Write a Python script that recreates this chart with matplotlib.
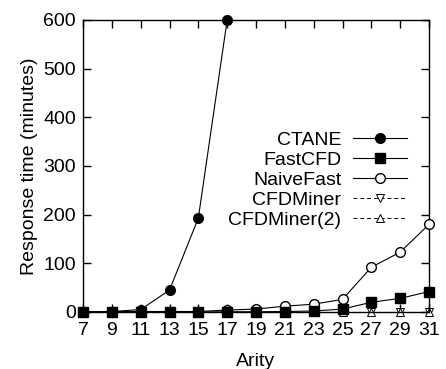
import matplotlib
matplotlib.use("Agg")
import matplotlib.pyplot as plt

plt.rcParams['font.family'] = ['Liberation Sans', 'DejaVu Sans']

arity = [7, 9, 11, 13, 15, 17, 19, 21, 23, 25, 27, 29, 31]
ctane_x = [7, 9, 11, 13, 15, 17]
ctane = [0, 1, 5, 45, 193, 600]
fastcfd = [0, 0, 0, 0, 0, 0.5, 0.5, 1, 2, 6, 20, 28, 42]
naivefast = [0, 0.5, 1, 1, 1, 4, 6, 12, 16, 26, 92, 123, 180]
cfdminer = [0, 0, 0, 0, 0, 0, 0, 0, 0, 0, 0, 0, 0]
cfdminer2 = [0, 0, 0, 0, 0, 0, 0, 0, 0, 0, 0, 0, 0]

fig = plt.figure(figsize=(4.46, 3.69), dpi=100)
ax = fig.add_axes([83 / 446, 1 - 312 / 369, 346 / 446, 292 / 369])

ax.plot(ctane_x, ctane, color='black', lw=0.8, marker='o', ms=7,
        label='CTANE', clip_on=False, zorder=5)
ax.plot(arity, fastcfd, color='black', lw=0.8, marker='s', ms=6.5,
        label='FastCFD', clip_on=False, zorder=4)
ax.plot(arity, naivefast, color='black', lw=0.8, marker='o', ms=7,
        mfc='white', label='NaiveFast', clip_on=False, zorder=3)
ax.plot(arity, cfdminer, color='black', lw=0.7, ls=(0, (4, 3)), marker='v',
        ms=5.5, mfc='white', mew=0.7, label='CFDMiner', clip_on=False, zorder=2)
ax.plot(arity, cfdminer2, color='black', lw=0.7, ls=(0, (4, 3)), marker='^',
        ms=5.5, mfc='white', mew=0.7, label='CFDMiner(2)', clip_on=False, zorder=2)

ax.set_xlim(7, 31)
ax.set_ylim(0, 600)
ax.set_xticks(arity)
ax.set_yticks([0, 100, 200, 300, 400, 500, 600])
ax.tick_params(direction='in', top=True, right=True, length=6, width=1,
               labelsize=14, pad=5)
ax.tick_params(axis='x', pad=7)
for s in ax.spines.values():
    s.set_linewidth(1)

ax.set_xlabel('Arity', fontsize=14, labelpad=10)
ax.set_ylabel('Response time (minutes)', fontsize=14, labelpad=4)

ax.legend(loc='upper right', bbox_to_anchor=(0.96, 0.645), frameon=False,
          markerfirst=False, fontsize=14, handlelength=2.8, handletextpad=0.6,
          labelspacing=0.12, borderaxespad=0)

fig.savefig('out.png', dpi=100)
